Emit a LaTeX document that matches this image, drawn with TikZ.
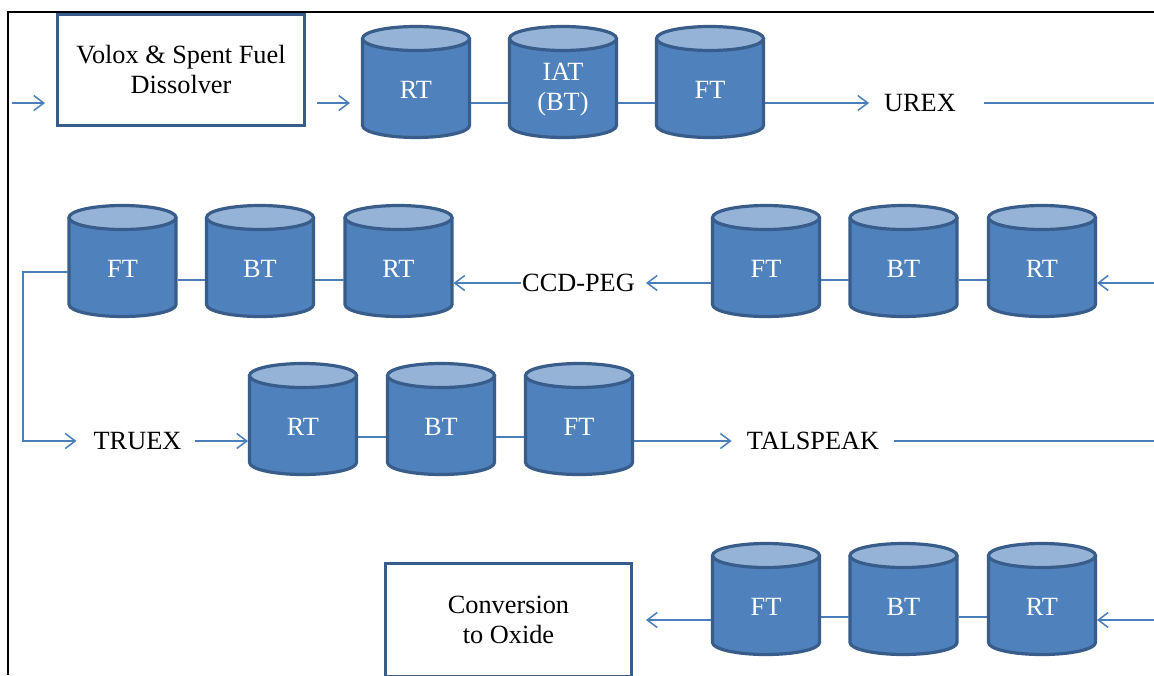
\documentclass[tikz,border=0pt]{standalone}
\usepackage{fontspec}
\setmainfont{Liberation Serif}
\usetikzlibrary{arrows.meta}
\definecolor{tankfill}{HTML}{4F81BD}
\definecolor{tankedge}{HTML}{385D8A}
\definecolor{tanktop}{HTML}{95B3D7}
\definecolor{linkc}{HTML}{4A7EBB}
\newcommand\tank[4]{%
  \fill[tankfill] ({#2-53.5},{#3-43.5}) -- ({#2-53.5},{#3+43.5})
     arc[start angle=180,end angle=360,x radius=53.5pt,y radius=12pt]
     -- ({#2+53.5},{#3-43.5}) -- cycle;
  \draw[tankedge,line width=3.2pt,line join=round] ({#2-53.5},{#3-43.5}) -- ({#2-53.5},{#3+43.5})
     arc[start angle=180,end angle=360,x radius=53.5pt,y radius=12pt]
     -- ({#2+53.5},{#3-43.5});
  \filldraw[fill=tanktop,draw=tankedge,line width=3.2pt] (#2,{#3-43.5}) ellipse[x radius=53.5pt,y radius=12pt];
  \node[tankbox] (#1) at (#2,#3) {};
  \node[tanktext] (#1-t) at (#2,{#3+8}) {#4};
}
\tikzset{
  txt/.style={font=\fontsize{26.3}{30}\selectfont},
  tankbox/.style={rectangle,minimum width=110pt,minimum height=114pt,inner sep=0pt,outer sep=0pt},
  tanktext/.style={txt,text=white,align=center,inner sep=0pt},
  plain/.style={txt,text=black,inner sep=0pt},
  procbox/.style={txt,text=black,align=center,draw=tankedge,line width=3pt,fill=white,inner sep=0pt},
  link/.style={draw=linkc,line width=1.5pt},
  arr/.style={link,-{Straight Barb[length=10pt,width=15pt]}},
}
\begin{document}
\begin{tikzpicture}[x=1pt,y=-1pt]
\useasboundingbox (0,0) rectangle (1154,675);
\fill[white] (0,0) rectangle (1154,675);

% ---------- Row 1 ----------
\coordinate (in1) at (12,103);
\node[procbox,minimum width=247pt,minimum height=111pt,text depth=1pt] (vox) at (181,70) {Volox \& Spent Fuel\\Dissolver};
\tank{rt1}{416}{82}{RT}
\tank{iat}{563}{82}{IAT\\(BT)}
\tank{ft1}{710}{82}{FT}
\node[plain] (urex) at (920,103) {UREX};
\coordinate (r1) at (1154,103);
\draw[arr,shorten >=11pt] (in1) -- (in1 -| vox.west);
\draw[arr,shorten <=11pt,shorten >=11pt] ([yshift=-33pt]vox.east) -- ([yshift=-21pt]rt1.west);
\draw[link] ([yshift=-21pt]rt1.east) -- ([yshift=-21pt]iat.west);
\draw[link] ([yshift=-21pt]iat.east) -- ([yshift=-21pt]ft1.west);
\draw[arr,shorten >=15pt] ([yshift=-21pt]ft1.east) -- (urex.west);
\draw[link,shorten <=28pt] (urex.east) -- (r1);

% ---------- Row 2 ----------
\tank{ft2a}{122.5}{261}{FT}
\tank{bt2a}{260}{261}{BT}
\tank{rt2a}{398.5}{261}{RT}
\tank{ft2b}{766}{261}{FT}
\tank{bt2b}{903.5}{261}{BT}
\tank{rt2b}{1042}{261}{RT}
\node[plain] (ccd) at (578.5,283) {CCD-PEG};
\coordinate (r2) at (1154,283);
\draw[arr] (r2) -- ([yshift=-22pt]rt2b.east);
\draw[link] ([yshift=-19pt]rt2b.west) -- ([yshift=-19pt]bt2b.east);
\draw[link] ([yshift=-19pt]bt2b.west) -- ([yshift=-19pt]ft2b.east);
\draw[arr,shorten >=11pt] ([yshift=-22pt]ft2b.west) -- (ccd.east);
\draw[arr,shorten <=1pt] (ccd.west) -- ([yshift=-22pt]rt2a.east);
\draw[link] ([yshift=-19pt]rt2a.west) -- ([yshift=-19pt]bt2a.east);
\draw[link] ([yshift=-19pt]bt2a.west) -- ([yshift=-19pt]ft2a.east);

% ---------- Row 3 ----------
\node[plain] (truex) at (137.5,441) {TRUEX};
\tank{rt3}{303}{419}{RT}
\tank{bt3}{441}{419}{BT}
\tank{ft3}{579}{419}{FT}
\node[plain] (tal) at (813,441) {TALSPEAK};
\coordinate (lp) at (23,441);
\coordinate (r3) at (1154,441);
\draw[link,-{Straight Barb[length=10pt,width=15pt]},shorten >=17pt] ([yshift=-11pt]ft2a.west) -| (lp) -- (truex.west);
\draw[arr,shorten <=13pt] (truex.east) -- ([yshift=-22pt]rt3.west);
\draw[link] ([yshift=-18pt]rt3.east) -- ([yshift=-18pt]bt3.west);
\draw[link] ([yshift=-18pt]bt3.east) -- ([yshift=-18pt]ft3.west);
\draw[arr,shorten >=15pt] ([yshift=-22pt]ft3.east) -- (tal.west);
\draw[link,shorten <=15pt] (tal.east) -- (r3);

% ---------- Row 4 ----------
\node[procbox,minimum width=246pt,minimum height=113pt] (conv) at (508.5,620) {Conversion\\to Oxide};
\tank{ft4}{766}{599}{FT}
\tank{bt4}{903.5}{599}{BT}
\tank{rt4}{1042}{599}{RT}
\coordinate (r4) at (1154,620);
\draw[arr] (r4) -- ([yshift=-21pt]rt4.east);
\draw[link] ([yshift=-18pt]rt4.west) -- ([yshift=-18pt]bt4.east);
\draw[link] ([yshift=-18pt]bt4.west) -- ([yshift=-18pt]ft4.east);
\draw[arr,shorten >=13pt] ([yshift=-21pt]ft4.west) -- (conv.east);

% ---------- frame ----------
\draw[black,line width=2.5pt] (8,675) -- (8,12) -- (1154,12);
\end{tikzpicture}
\end{document}
